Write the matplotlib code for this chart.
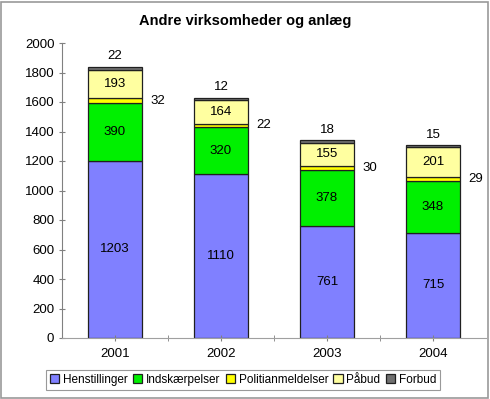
import matplotlib

matplotlib.use("Agg")
import matplotlib.pyplot as plt
import numpy as np
from matplotlib.patches import Rectangle

plt.rcParams["font.family"] = ["Liberation Sans", "DejaVu Sans"]

years = ["2001", "2002", "2003", "2004"]
series_names = ["Henstillinger", "Indskærpelser", "Politianmeldelser", "Påbud", "Forbud"]
henstillinger = [1203, 1110, 761, 715]
indskaerpelser = [390, 320, 378, 348]
politianmeldelser = [32, 22, 30, 29]
paabud = [193, 164, 155, 201]
forbud = [22, 12, 18, 15]
colors = ["#8080FF", "#00F000", "#FFFF00", "#FFFFA0", "#707070"]

series = [henstillinger, indskaerpelser, politianmeldelser, paabud, forbud]

fig = plt.figure(figsize=(4.9, 3.99), dpi=100)
ax = fig.add_axes([62 / 490, 1 - 338 / 399, 424 / 490, 295 / 399])

x = np.arange(len(years))
width = 0.51
bottom = np.zeros(len(years))
for name, vals, col in zip(series_names, series, colors):
    vals = np.array(vals, dtype=float)
    ax.bar(x, vals, width, bottom=bottom, color=col, edgecolor="#202020", linewidth=0.9, label=name)
    for i, v in enumerate(vals):
        if name == "Politianmeldelser":
            ax.text(x[i] + width / 2 + 0.08, bottom[i] + v / 2, f"{int(v)}", ha="left", va="center", fontsize=9.5)
        elif name == "Forbud":
            ax.text(x[i], bottom[i] + v + 30, f"{int(v)}", ha="center", va="bottom", fontsize=9.5)
        else:
            ax.text(x[i], bottom[i] + v / 2, f"{int(v)}", ha="center", va="center", fontsize=9.5)
    bottom += vals

ax.set_xlim(-0.5, 3.5)
ax.set_ylim(0, 2000)
ax.set_yticks(range(0, 2001, 200))
ax.set_xticks(x)
ax.set_xticklabels(years)
ax.set_xticks([0.5, 1.5, 2.5], minor=True)
ax.tick_params(axis="both", which="both", labelsize=9.5, color="#808080")
ax.tick_params(axis="x", which="both", length=4, direction="inout", pad=5)
ax.tick_params(axis="y", length=5, direction="inout", pad=3)
for s in ["top", "right"]:
    ax.spines[s].set_visible(False)
ax.spines["left"].set_color("#808080")
ax.spines["bottom"].set_color("#a0a0a0")
ax.spines["bottom"].set_linestyle((0, (2, 1)))

fig.text(0.5, 1 - 21 / 399, "Andre virksomheder og anlæg", ha="center", va="center",
         fontsize=10.5, fontweight="bold")

leg = fig.legend(loc="center", bbox_to_anchor=(243 / 490, 1 - 380 / 399), ncol=5, fontsize=8.5,
                 frameon=True, fancybox=False, edgecolor="#808080", handlelength=0.8,
                 handleheight=0.8, handletextpad=0.3, columnspacing=0.45, borderpad=0.35)
leg.get_frame().set_linewidth(0.8)

fig.patches.append(Rectangle((0.002, 0.002), 0.994, 0.994, transform=fig.transFigure,
                             fill=False, edgecolor="#999999", linewidth=1.2))

fig.savefig("out.png", dpi=100)
